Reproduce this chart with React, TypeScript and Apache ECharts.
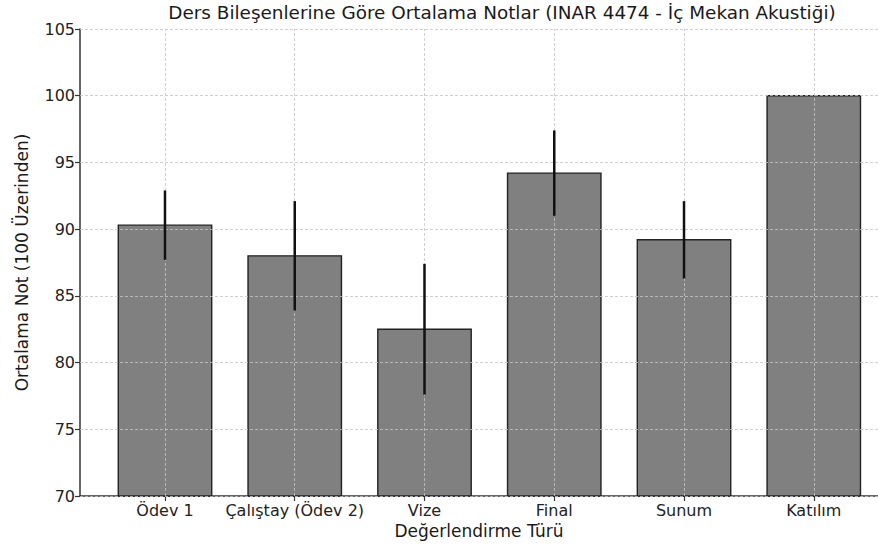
import React, { useEffect, useRef } from "react";
import * as echarts from "echarts";

const categories = ["Ödev 1", "Çalıştay (Ödev 2)", "Vize", "Final", "Sunum", "Katılım"];
const means = [90.3, 88.0, 82.5, 94.2, 89.2, 100];
const errors = [2.6, 4.1, 4.9, 3.2, 2.9, 0];
const yTicks = [70, 75, 80, 85, 90, 95, 100, 105];

const titleText = "Ders Bileşenlerine Göre Ortalama Notlar (INAR 4474 - İç Mekan Akustiği)";
const xName = "Değerlendirme Türü";
const yName = "Ortalama Not (100 Üzerinden)";

const FONT = "DejaVu Sans";

export default function App() {
  const ref = useRef<HTMLDivElement>(null);
  useEffect(() => {
    document.body.style.margin = "0";
    const chart = echarts.init(ref.current!, null, { renderer: "svg" });
    const idx = categories.map((_, i) => i);
    const yMin = yTicks[0];
    const yMax = yTicks[yTicks.length - 1];
    const barData = means.map((m, i) => [i, m]);
    const errData = means.map((m, i) => [i, m - errors[i], m + errors[i]]);
    const gridLine = { color: "#c4c4c4", opacity: 0.8, width: 1, type: [3, 2] };
    const option: any = {
      animation: false,
      backgroundColor: "#ffffff",
      textStyle: { fontFamily: FONT },
      graphic: [
        {
          type: "text",
          x: 502,
          y: 3,
          style: {
            text: titleText,
            fontFamily: FONT,
            fontSize: 18.4,
            fill: "#1a1a1a",
            textAlign: "center",
            textVerticalAlign: "top",
          },
        },
      ],
      grid: { left: 80, right: 0, top: 29, bottom: 53 },
      xAxis: {
        type: "value",
        min: -0.655,
        max: 5.495,
        name: xName,
        nameLocation: "middle",
        nameGap: 25,
        nameTextStyle: { fontFamily: FONT, fontSize: 17, color: "#1a1a1a" },
        axisLine: { show: true, onZero: false, lineStyle: { color: "#333", width: 1.5 } },
        axisTick: { show: true, customValues: idx, length: 5, lineStyle: { color: "#333", width: 1.2 } },
        axisLabel: {
          show: true,
          customValues: idx,
          margin: 6,
          fontFamily: FONT,
          fontSize: 16,
          color: "#222",
          formatter: (v: number) => categories[Math.round(v)] ?? "",
        },
        splitLine: { show: false },
      },
      yAxis: {
        type: "value",
        min: yMin,
        max: yMax,
        interval: 5,
        name: yName,
        nameLocation: "middle",
        nameGap: 50,
        nameTextStyle: { fontFamily: FONT, fontSize: 17, color: "#1a1a1a" },
        axisLine: { show: true, onZero: false, lineStyle: { color: "#333", width: 1.5 } },
        axisTick: { show: true, length: 5, lineStyle: { color: "#333", width: 1.2 } },
        axisLabel: { margin: 5, fontFamily: FONT, fontSize: 16, color: "#222" },
        splitLine: { show: false },
      },
      series: [
        {
          type: "custom",
          name: "bars",
          z: 1,
          data: barData,
          renderItem: (params: any, api: any) => {
            const x = api.value(0);
            const v = api.value(1);
            const top = api.coord([x, v]);
            const bottom = api.coord([x, yMin]);
            const w = api.size([0.72, 0])[0];
            return {
              type: "rect",
              shape: { x: top[0] - w / 2, y: top[1], width: w, height: bottom[1] - top[1] },
              style: { fill: "#808080", stroke: "#222", lineWidth: 1.4 },
            };
          },
        },
        {
          type: "custom",
          name: "errors",
          z: 20,
          data: errData,
          renderItem: (params: any, api: any) => {
            const x = api.value(0);
            const lo = api.coord([x, api.value(1)]);
            const hi = api.coord([x, api.value(2)]);
            if (Math.abs(hi[1] - lo[1]) < 0.5) return null;
            return {
              type: "line",
              shape: { x1: lo[0], y1: lo[1], x2: hi[0], y2: hi[1] },
              style: { stroke: "#111", lineWidth: 2.5 },
            };
          },
          markLine: {
            silent: true,
            symbol: ["none", "none"],
            label: { show: false },
            lineStyle: gridLine,
            emphasis: { disabled: true },
            data: [
              ...yTicks.map((t) => ({ yAxis: t })),
              ...idx.map((i) => ({ xAxis: i })),
            ],
          },
        },
      ],
    };
    chart.setOption(option);
    return () => chart.dispose();
  }, []);
  return (
    <div
      ref={ref}
      style={{ position: "fixed", left: 0, top: 0, width: 878, height: 549, background: "#fff" }}
    />
  );
}
